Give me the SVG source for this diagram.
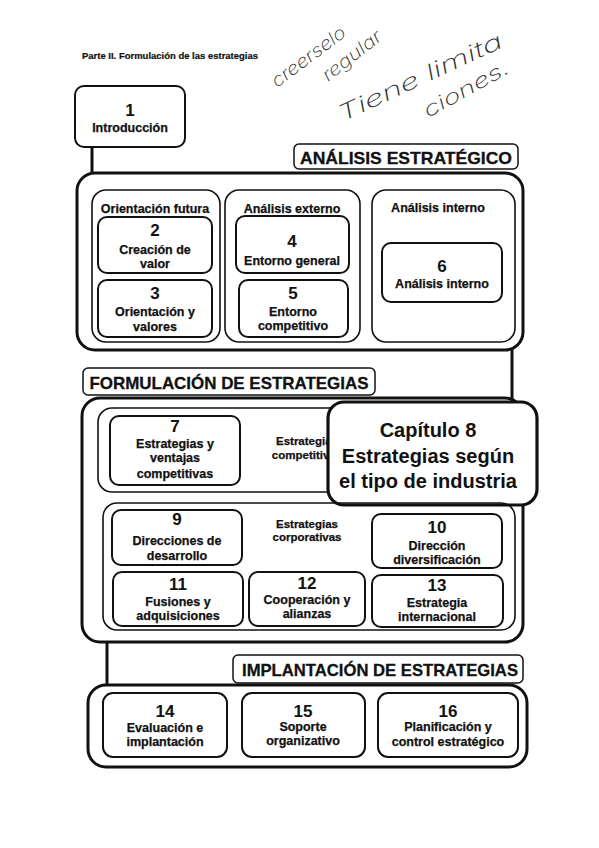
<svg xmlns="http://www.w3.org/2000/svg" width="599" height="848" viewBox="0 0 599 848">
<style>
text{font-family:"Liberation Sans",Arial,sans-serif;font-weight:bold;fill:#111;text-anchor:middle}
.outer{fill:none;stroke:#111;stroke-width:3}
.grp{fill:none;stroke:#111;stroke-width:1.6}
.box{fill:#fff;stroke:#111;stroke-width:2}
.tbox{fill:#fff;stroke:#111;stroke-width:1.5}
.cap{fill:#fff;stroke:#111;stroke-width:3.2}
.num{font-size:17px}
.lbl{font-size:12.5px;stroke:#111;stroke-width:0.25}
.sub{font-size:12.5px;stroke:#111;stroke-width:0.25}
.ttl{font-size:17px;stroke:#111;stroke-width:0.3}
.big{font-size:20px}
.hand{font-family:Inter,"Open Sans",sans-serif;font-weight:200;font-style:italic;fill:#333;text-anchor:start}
.conn{fill:none;stroke:#111;stroke-width:3}
</style>
<rect width="599" height="848" fill="#fff"/>
<text x="82" y="59" style="font-size:8.5px;text-anchor:start;stroke:#111;stroke-width:0.2" textLength="176" lengthAdjust="spacingAndGlyphs">Parte II. Formulación de las estrategias</text>
<g id="handwriting">
<text class="hand" transform="translate(277,88) rotate(-37)" style="font-size:18px" textLength="88" lengthAdjust="spacingAndGlyphs">creerselo</text>
<text class="hand" transform="translate(328,82) rotate(-38)" style="font-size:18px" textLength="70" lengthAdjust="spacingAndGlyphs">regular</text>
<text class="hand" transform="translate(342,122) rotate(-25)" style="font-size:22px" textLength="179" lengthAdjust="spacingAndGlyphs">Tiene limita</text>
<text class="hand" transform="translate(428,118) rotate(-29)" style="font-size:20px" textLength="95" lengthAdjust="spacingAndGlyphs">ciones.</text>
</g>
<g id="connectors">
<path class="conn" d="M92,147 V174"/>
<path class="conn" d="M512,349 V402"/>
<path class="conn" d="M107,641 V686"/>
</g>
<g id="n1">
<rect class="box" x="75" y="86" width="110" height="61" rx="9"/>
<text class="num" x="130" y="116">1</text>
<text class="lbl" x="130" y="132">Introducción</text>
</g>
<g id="analisis">
<rect class="tbox" x="294" y="144" width="224" height="25" rx="5"/>
<text class="ttl" x="406" y="164" textLength="212" lengthAdjust="spacingAndGlyphs">ANÁLISIS ESTRATÉGICO</text>
<rect class="outer" x="77" y="173" width="446" height="177" rx="18"/>
</g>
<g id="g-orientacion">
<rect class="grp" x="92" y="190" width="128" height="152" rx="14"/>
<text class="sub" x="155" y="213">Orientación futura</text>
</g>
<g id="g-externo">
<rect class="grp" x="225" y="190" width="135" height="152" rx="14"/>
<text class="sub" x="292" y="213">Análisis externo</text>
</g>
<g id="g-interno">
<rect class="grp" x="372" y="190" width="143" height="152" rx="14"/>
<text class="sub" x="438" y="212">Análisis interno</text>
</g>
<g id="n2">
<rect class="box" x="98" y="217" width="114" height="56" rx="9"/>
<text class="num" x="155" y="236">2</text>
<text class="lbl" x="155" y="254">Creación de</text>
<text class="lbl" x="155" y="268">valor</text>
</g>
<g id="n3">
<rect class="box" x="98" y="280" width="114" height="57" rx="9"/>
<text class="num" x="155" y="299">3</text>
<text class="lbl" x="155" y="316">Orientación y</text>
<text class="lbl" x="155" y="331">valores</text>
</g>
<g id="n4">
<rect class="box" x="236" y="216" width="113" height="57" rx="9"/>
<text class="num" x="292" y="247">4</text>
<text class="lbl" x="292" y="265">Entorno general</text>
</g>
<g id="n5">
<rect class="box" x="239" y="280" width="109" height="57" rx="9"/>
<text class="num" x="293" y="299">5</text>
<text class="lbl" x="293" y="316">Entorno</text>
<text class="lbl" x="293" y="330">competitivo</text>
</g>
<g id="n6">
<rect class="box" x="382" y="243" width="120" height="59" rx="9"/>
<text class="num" x="442" y="272">6</text>
<text class="lbl" x="442" y="288">Análisis interno</text>
</g>
<g id="formulacion">
<rect class="tbox" x="83" y="368" width="292" height="27" rx="5"/>
<text class="ttl" x="229" y="389" textLength="279" lengthAdjust="spacingAndGlyphs">FORMULACIÓN DE ESTRATEGIAS</text>
<rect class="outer" x="82" y="398" width="441" height="244" rx="18"/>
</g>
<g id="g-competitivas">
<rect class="grp" x="98" y="408" width="420" height="84" rx="14"/>
<text class="lbl" x="307" y="445" style="font-size:11.5px">Estrategias</text>
<text class="lbl" x="307" y="459" style="font-size:11.5px">competitivas</text>
</g>
<g id="n7">
<rect class="box" x="110" y="416" width="130" height="69" rx="9"/>
<text class="num" x="175" y="432">7</text>
<text class="lbl" x="175" y="448">Estrategias y</text>
<text class="lbl" x="175" y="462">ventajas</text>
<text class="lbl" x="175" y="478">competitivas</text>
</g>
<g id="n8">
<rect class="cap" x="328" y="402" width="209" height="103" rx="16"/>
<text class="big" x="428" y="437">Capítulo 8</text>
<text class="big" x="428" y="463">Estrategias según</text>
<text class="big" x="428" y="488">el tipo de industria</text>
</g>
<g id="g-corporativas">
<rect class="grp" x="103" y="503" width="412" height="127" rx="14"/>
<text class="lbl" x="307" y="528" style="font-size:11.5px">Estrategias</text>
<text class="lbl" x="307" y="541" style="font-size:11.5px">corporativas</text>
</g>
<g id="n9">
<rect class="box" x="112" y="510" width="130" height="55" rx="9"/>
<text class="num" x="177" y="525">9</text>
<text class="lbl" x="177" y="545">Direcciones de</text>
<text class="lbl" x="177" y="560">desarrollo</text>
</g>
<g id="n10">
<rect class="box" x="372" y="514" width="130" height="54" rx="9"/>
<text class="num" x="437" y="533">10</text>
<text class="lbl" x="437" y="550">Dirección</text>
<text class="lbl" x="437" y="564">diversificación</text>
</g>
<g id="n11">
<rect class="box" x="113" y="572" width="130" height="54" rx="9"/>
<text class="num" x="178" y="590">11</text>
<text class="lbl" x="178" y="606">Fusiones y</text>
<text class="lbl" x="178" y="620">adquisiciones</text>
</g>
<g id="n12">
<rect class="box" x="249" y="572" width="116" height="54" rx="9"/>
<text class="num" x="307" y="589">12</text>
<text class="lbl" x="307" y="604">Cooperación y</text>
<text class="lbl" x="307" y="618">alianzas</text>
</g>
<g id="n13">
<rect class="box" x="372" y="575" width="131" height="52" rx="9"/>
<text class="num" x="437" y="591">13</text>
<text class="lbl" x="437" y="607">Estrategia</text>
<text class="lbl" x="437" y="621">internacional</text>
</g>
<g id="implantacion">
<rect class="tbox" x="233" y="655" width="290" height="28" rx="5"/>
<text class="ttl" x="380" y="676" textLength="276" lengthAdjust="spacingAndGlyphs">IMPLANTACIÓN DE ESTRATEGIAS</text>
<rect class="outer" x="88" y="685" width="439" height="82" rx="18"/>
</g>
<g id="n14">
<rect class="box" x="103" y="693" width="124" height="64" rx="10"/>
<text class="num" x="165" y="717">14</text>
<text class="lbl" x="165" y="732">Evaluación e</text>
<text class="lbl" x="165" y="746">implantación</text>
</g>
<g id="n15">
<rect class="box" x="242" y="693" width="123" height="64" rx="10"/>
<text class="num" x="303" y="717">15</text>
<text class="lbl" x="303" y="731">Soporte</text>
<text class="lbl" x="303" y="745">organizativo</text>
</g>
<g id="n16">
<rect class="box" x="378" y="693" width="140" height="64" rx="10"/>
<text class="num" x="448" y="717">16</text>
<text class="lbl" x="448" y="731">Planificación y</text>
<text class="lbl" x="448" y="746">control estratégico</text>
</g>
</svg>
